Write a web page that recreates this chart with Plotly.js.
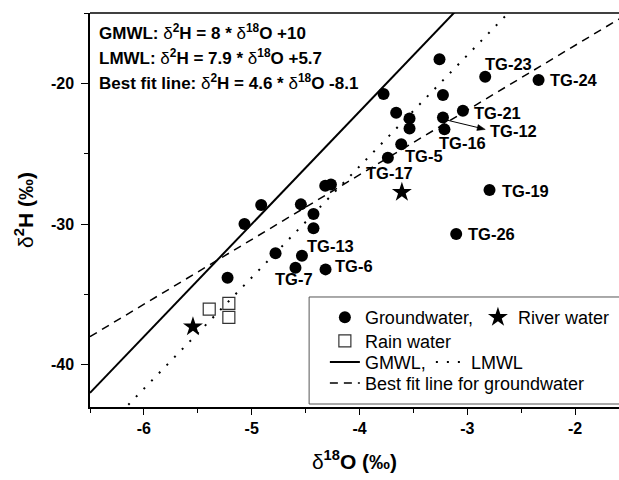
<!DOCTYPE html>
<html>
<head>
<meta charset="utf-8">
<script src="https://cdn.plot.ly/plotly-3.0.1.min.js"></script>
<style>html,body{margin:0;padding:0;background:#fff;}#chart{width:619px;height:480px;}</style>
</head>
<body>
<div id="chart"></div>
<script>
// ---- data ----
const gwX = [-3.258,-2.834,-2.339,-3.777,-3.226,-3.660,-3.536,-3.226,-3.041,-3.536,-3.212,-3.613,-3.737,-4.318,-4.265,-2.794,-3.103,-4.912,-5.067,-4.544,-4.427,-4.427,-4.779,-4.534,-4.594,-4.315,-5.224];
const gwY = [-18.29,-19.53,-19.76,-20.76,-20.83,-22.09,-22.49,-22.42,-21.94,-23.20,-23.27,-24.33,-25.28,-27.27,-27.18,-27.58,-30.71,-28.65,-29.99,-28.60,-29.29,-30.30,-32.08,-32.25,-33.10,-33.22,-33.81];
const sampleNames = ['TG-23','TG-24','TG-12','TG-21','TG-16','TG-5','TG-17','TG-19','TG-26','TG-13','TG-7','TG-6'];
const sampleIdx   = [1, 2, 7, 8, 10, 11, 12, 15, 16, 23, 24, 25];

const riverX = [-3.607, -5.545];
const riverY = [-27.74, -37.30];
const rainX = [-5.394, -5.212, -5.212];
const rainY = [-36.04, -35.63, -36.63];

const lineNames = ['GMWL,', 'LMWL', 'Best fit line for groundwater'];
const lineSlopes = [8, 7.9, 4.6];
const lineIntercepts = [10, 5.7, -8.1];
const lineXExtent = [-6.5, -1.5];

const xTickVals = [-6, -5, -4, -3, -2];
const yTickVals = [-40, -30, -20];
const equations = [
  '<b>GMWL: </b>δ<sup><b>2</b></sup><b>H = 8 * </b>δ<sup><b>18</b></sup><b>O +10</b>',
  '<b>LMWL: </b>δ<sup><b>2</b></sup><b>H = 7.9 * </b>δ<sup><b>18</b></sup><b>O +5.7</b>',
  '<b>Best fit line: </b>δ<sup><b>2</b></sup><b>H = 4.6 * </b>δ<sup><b>18</b></sup><b>O -8.1</b>'
];
const xTitle = 'δ<sup><b>18</b></sup><b>O (‰)</b>';
const yTitle = 'δ<sup><b>2</b></sup><b>H (‰)</b>';

// ---- styles / positions ----
const FONT = 'Liberation Sans, Arial, sans-serif';
const labelOffsets = {
  'TG-23':[-2,12.4],'TG-24':[9.7,0],'TG-12':[45.3,-13.4],'TG-21':[9,-2.3],
  'TG-16':[-7.6,-13.4],'TG-5':[2,-11.7],'TG-17':[-23.7,-15],'TG-19':[10.7,-0.7],
  'TG-26':[10,0],'TG-13':[3.3,9.7],'TG-7':[-22,-11.6],'TG-6':[7.4,3.3]
};
const lineStyles = [
  {dash:'solid', width:2},
  {dash:'2px,9px', width:2},
  {dash:'8px,6px', width:1.5}
];
const lineLegends = ['legend3','legend3','legend4'];

const traces = [
  {x: gwX, y: gwY, type:'scatter', mode:'markers', name:'Groundwater,',
   marker:{symbol:'circle', size:12, color:'#000'}, legend:'legend'},
  {x: riverX, y: riverY, type:'scatter', mode:'markers', name:'River water',
   marker:{symbol:'star', size:15, color:'#000'}, legend:'legend'},
  {x: rainX, y: rainY, type:'scatter', mode:'markers', name:'Rain water',
   marker:{symbol:'square-open', size:12, color:'#333', line:{width:1.2}}, legend:'legend2'}
];
lineNames.forEach((n, i) => {
  traces.push({
    x: lineXExtent,
    y: lineXExtent.map(v => lineSlopes[i]*v + lineIntercepts[i]),
    type:'scatter', mode:'lines', name:n, legend: lineLegends[i],
    line:{color:'#000', width:lineStyles[i].width, dash:lineStyles[i].dash}
  });
});

const annotations = [];
sampleNames.forEach((n, k) => {
  const i = sampleIdx[k];
  const off = labelOffsets[n];
  annotations.push({x: gwX[i], y: gwY[i], xref:'x', yref:'y', text:n,
    showarrow:false, xanchor:'left', yanchor:'middle', xshift:off[0], yshift:off[1],
    font:{family:FONT, size:16.5, color:'#000', weight:'bold'}});
});
const eqY = [0.9525, 0.889, 0.8249];
equations.forEach((t, k) => {
  annotations.push({x:0.013, y:eqY[k], xref:'paper', yref:'paper', text:t, showarrow:false,
    xanchor:'left', yanchor:'middle', font:{family:FONT, size:17, color:'#000'}});
});

// arrow from TG-12 point toward its label (pixel offsets anchored on the point)
const i12 = sampleIdx[sampleNames.indexOf('TG-12')];
const arrowShapes = [
  {type:'path', xref:'x', yref:'y', xsizemode:'pixel', ysizemode:'pixel',
   xanchor: gwX[i12], yanchor: gwY[i12], path:'M4,-2.7 L36,-10.4',
   line:{color:'#000', width:1}},
  {type:'path', xref:'x', yref:'y', xsizemode:'pixel', ysizemode:'pixel',
   xanchor: gwX[i12], yanchor: gwY[i12], path:'M42.3,-12 L35.2,-7.2 L33.8,-13 Z',
   line:{color:'#000', width:0.5}, fillcolor:'#000'}
];

const legBase = {orientation:'h', xanchor:'left', yanchor:'top', bgcolor:'rgba(0,0,0,0)',
  borderwidth:0, font:{family:FONT, size:18, color:'#000'}, traceorder:'normal'};
const LX = 0.444;

const layout = {
  width:619, height:480,
  margin:{l:90, r:0, t:13, b:73, pad:0},
  paper_bgcolor:'#fff', plot_bgcolor:'#fff',
  showlegend:true,
  legend: Object.assign({}, legBase, {x:LX, y:0.2741}),
  legend2: Object.assign({}, legBase, {x:LX, y:0.2140}),
  legend3: Object.assign({}, legBase, {x:LX, y:0.1607}),
  legend4: Object.assign({}, legBase, {x:LX, y:0.1074}),
  xaxis:{range:[-6.5, -1.593], tickvals:xTickVals, ticktext:xTickVals.map(String),
    showgrid:false, zeroline:false, showline:true, linecolor:'#000', linewidth:1.5,
    ticks:'outside', ticklen:6, tickwidth:1.2, tickcolor:'#000',
    minor:{dtick:0.5, tick0:-6.5, ticks:'outside', ticklen:4, tickwidth:1.2, tickcolor:'#000', showgrid:false},
    tickfont:{family:FONT, size:16, color:'#000', weight:'bold'},
    title:{text:xTitle, font:{family:FONT, size:21, color:'#000'}, standoff:18}},
  yaxis:{range:[-43, -15], tickvals:yTickVals, ticktext:yTickVals.map(String),
    showgrid:false, zeroline:false, showline:true, linecolor:'#000', linewidth:1.5,
    ticks:'outside', ticklen:7, tickwidth:1.2, tickcolor:'#000', ticklabelstandoff:4,
    minor:{dtick:5, tick0:-15, ticks:'outside', ticklen:4, tickwidth:1.2, tickcolor:'#000', showgrid:false},
    tickfont:{family:FONT, size:16, color:'#000', weight:'bold'},
    title:{text:yTitle, font:{family:FONT, size:21, color:'#000'}, standoff:12}},
  shapes:[
    {type:'line', xref:'paper', yref:'paper', x0:0, x1:1, y0:1, y1:1, line:{color:'#000', width:1.5}},
    {type:'rect', xref:'paper', yref:'paper', x0:0.4142, x1:1.05, y0:0.0076, y1:0.2792,
     line:{color:'#555', width:1}, fillcolor:'rgba(0,0,0,0)'}
  ].concat(arrowShapes),
  annotations: annotations
};

Plotly.newPlot('chart', traces, layout, {displayModeBar:false});
</script>
</body>
</html>
